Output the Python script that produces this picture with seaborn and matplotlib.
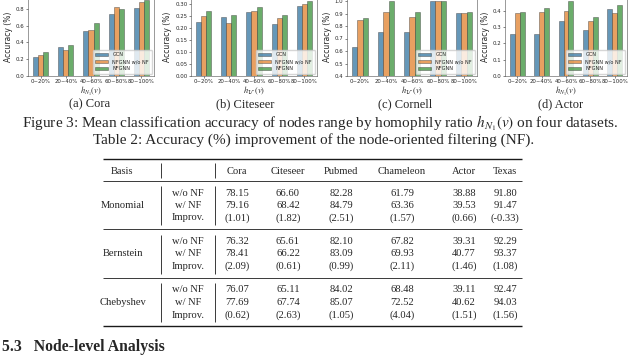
import pandas as pd
import matplotlib.pyplot as plt
import seaborn as sns

# datos de las cuatro graficas
rangos = ["0~20%", "20~40%", "40~60%", "60~80%", "80~100%"]
modelos = ["GCN", "NFGNN w/o NF", "NFGNN"]

cora_gcn = [0.232, 0.340, 0.540, 0.740, 0.812]
cora_sin = [0.252, 0.312, 0.552, 0.824, 0.880]
cora_nf = [0.280, 0.372, 0.632, 0.792, 0.900]

citeseer_gcn = [0.226, 0.244, 0.268, 0.215, 0.292]
citeseer_sin = [0.250, 0.222, 0.272, 0.243, 0.299]
citeseer_nf = [0.271, 0.254, 0.289, 0.254, 0.313]

cornell_gcn = [0.629, 0.749, 0.749, 1.000, 0.907]
cornell_sin = [0.848, 0.915, 0.875, 1.000, 0.907]
cornell_nf = [0.861, 1.000, 0.915, 1.000, 0.915]

actor_gcn = [0.257, 0.259, 0.337, 0.282, 0.414]
actor_sin = [0.384, 0.394, 0.400, 0.339, 0.384]
actor_nf = [0.394, 0.420, 0.459, 0.363, 0.435]

# datos de la tabla
bases = ["Monomial", "Bernstein", "Chebyshev"]
filas = ["w/o NF", "w/ NF", "Improv."]
columnas = ["Cora", "Citeseer", "Pubmed", "Chameleon", "Actor", "Texas"]
monomial = [["78.15", "66.60", "82.28", "61.79", "38.88", "91.80"],
            ["79.16", "68.42", "84.79", "63.36", "39.53", "91.47"],
            ["(1.01)", "(1.82)", "(2.51)", "(1.57)", "(0.66)", "(-0.33)"]]
bernstein = [["76.32", "65.61", "82.10", "67.82", "39.31", "92.29"],
             ["78.41", "66.22", "83.09", "69.93", "40.77", "93.37"],
             ["(2.09)", "(0.61)", "(0.99)", "(2.11)", "(1.46)", "(1.08)"]]
chebyshev = [["76.07", "65.11", "84.02", "68.48", "39.11", "92.47"],
             ["77.69", "67.74", "85.07", "72.52", "40.62", "94.03"],
             ["(0.62)", "(2.63)", "(1.05)", "(4.04)", "(1.51)", "(1.56)"]]

sns.set_theme(style="ticks")
plt.rcParams['mathtext.fontset'] = 'stix'
serif = ['Liberation Serif', 'DejaVu Serif']

fig = plt.figure(figsize=(6.4, 3.56), dpi=100)


def px(x, y, w, h):
    # pasar pixeles de la imagen a fracciones de la figura
    return [x / 640, 1 - (y + h) / 356, w / 640, h / 356]


paneles = [
    ("(a) Cora", cora_gcn, cora_sin, cora_nf, 28, 126, 90, (0, 0.94),
     [0.0, 0.2, 0.4, 0.6, 0.8], "%.1f", r"$h_{N_1}(v)$"),
    ("(b) Citeseer", citeseer_gcn, citeseer_sin, citeseer_nf, 191, 126, 245, (0, 0.329),
     [0.0, 0.05, 0.10, 0.15, 0.20, 0.25, 0.30], "%.2f", r"$h_{\mathcal{U}}\ (v)$"),
    ("(c) Cornell", cornell_gcn, cornell_sin, cornell_nf, 347, 130, 405, (0.4, 1.032),
     [0.4, 0.5, 0.6, 0.7, 0.8, 0.9, 1.0], "%.1f", r"$h_{\mathcal{U}}\ (v)$"),
    ("(d) Actor", actor_gcn, actor_sin, actor_nf, 505, 122, 561, (0, 0.485),
     [0.0, 0.1, 0.2, 0.3, 0.4], "%.1f", r"$h_{N_1}(v)$"),
]

for titulo, gcn, sin, nf, x0, ancho, xcap, lim, ticks, fmt, xlab in paneles:
    ax = fig.add_axes(px(x0, -3, ancho, 79))
    df = pd.DataFrame({
        "rango": rangos * 3,
        "acc": gcn + sin + nf,
        "modelo": [m for m in modelos for _ in rangos],
    })
    sns.barplot(data=df, x="rango", y="acc", hue="modelo", palette="tab10",
                width=0.6, alpha=0.75, edgecolor="0.25", linewidth=0.4, ax=ax)
    ax.set_ylim(*lim)
    ax.set_yticks(ticks)
    ax.set_yticklabels([fmt % t for t in ticks])
    ax.tick_params(labelsize=3.9, length=1.5, width=0.4, pad=1)
    ax.set_ylabel("Accuracy (%)", fontsize=5.5, labelpad=2)
    ax.set_xlabel(xlab, fontsize=6, labelpad=0)
    for s in ax.spines.values():
        s.set_linewidth(0.4)
        s.set_color("0.3")
    ax.legend(loc="lower right", fontsize=3.6, frameon=True, framealpha=0.8,
              borderpad=0.5, handlelength=2.6, labelspacing=0.4, edgecolor="0.8")
    fig.text(xcap / 640, 1 - 104 / 356, titulo, ha="center", va="center",
             fontsize=9, family=serif)

fig.text(0.5, 1 - 123.5 / 356,
         r"Figure 3: Mean classification accuracy of nodes range by homophily ratio $h_{N_1}(v)$ on four datasets.",
         ha="center", va="center", fontsize=11, family=serif)
fig.text(314 / 640, 1 - 140 / 356,
         "Table 2: Accuracy (%) improvement of the node-oriented filtering (NF).",
         ha="center", va="center", fontsize=11, family=serif)

# tabla dibujada en un eje que cubre toda la figura (coordenadas en pixeles)
axt = fig.add_axes([0, 0, 1, 1])
axt.set_xlim(0, 640)
axt.set_ylim(356, 0)
axt.axis("off")

col_x = [237, 288, 341, 402, 464, 505]
izq, der = 103, 522
y_top, y_head, y_mid = 159, 171, 181
bloques_y = [193, 241.5, 290]
paso = 12.5
fs = 7.6

axt.hlines(y_top, izq, der, color="k", lw=1.0)
axt.hlines(y_mid, izq, der, color="k", lw=0.6)
axt.text(122, y_head, "Basis", ha="center", va="center", fontsize=fs, family=serif)
for c, x in zip(columnas, col_x):
    axt.text(x, y_head, c, ha="center", va="center", fontsize=fs, family=serif)
axt.vlines([161, 215], y_top + 4, y_mid - 3, color="k", lw=0.6)

for i, (base, valores) in enumerate(zip(bases, [monomial, bernstein, chebyshev])):
    y0 = bloques_y[i]
    axt.text(123, y0 + paso, base, ha="center", va="center", fontsize=fs, family=serif)
    for j, fila in enumerate(filas):
        axt.text(188, y0 + j * paso, fila, ha="center", va="center", fontsize=fs, family=serif)
        for v, x in zip(valores[j], col_x):
            axt.text(x, y0 + j * paso, v, ha="center", va="center", fontsize=fs, family=serif)
    axt.vlines([161, 215], y0 - 7, y0 + 2 * paso + 7, color="k", lw=0.6)
    axt.hlines(y0 + 2 * paso + 11, izq, der, color="k", lw=1.0 if i == 2 else 0.6)

fig.text(2 / 640, 1 - 347 / 356, "5.3   Node-level Analysis", ha="left", va="center",
         fontsize=11.3, fontweight="bold", family=serif)

fig.savefig("out.png", dpi=100)
